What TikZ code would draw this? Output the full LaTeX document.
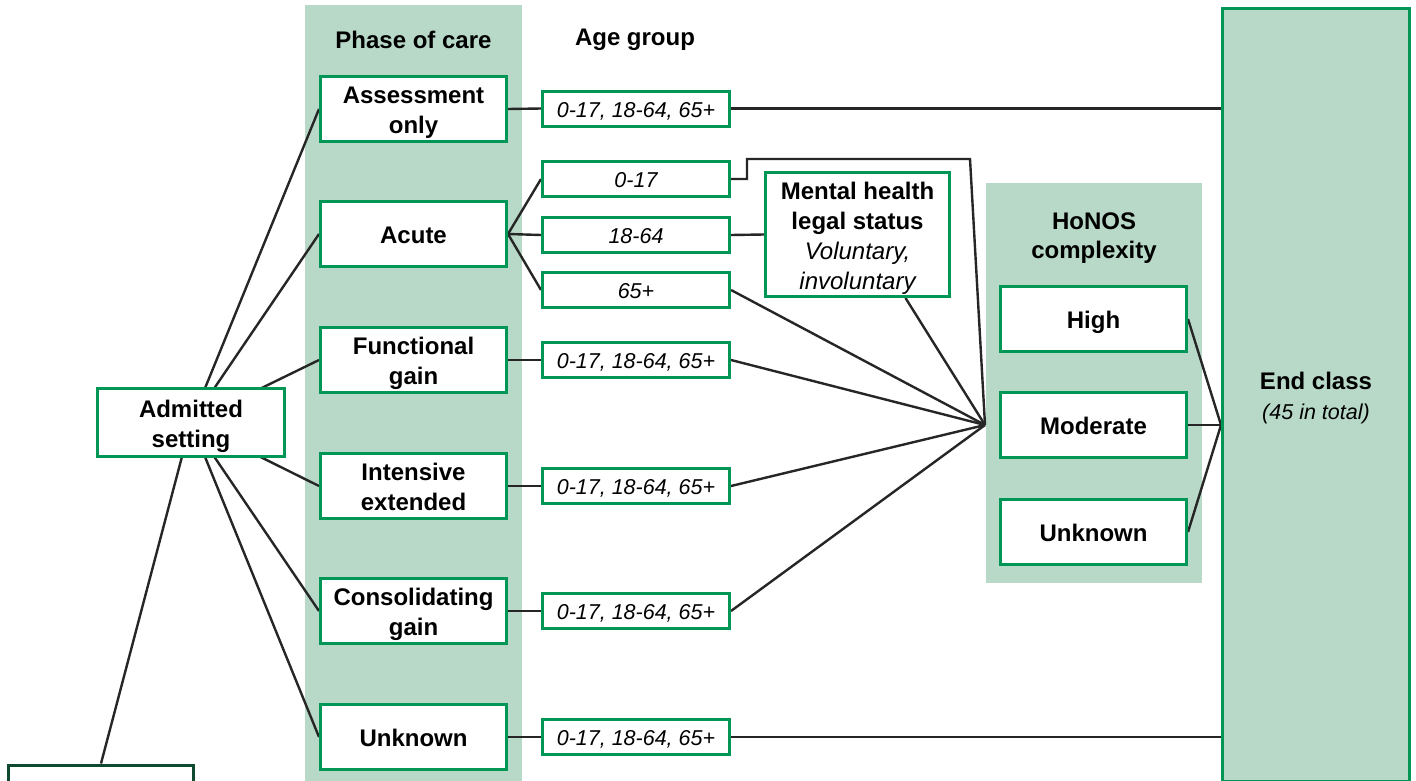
\documentclass[tikz,border=0pt]{standalone}
\usepackage{fontspec}
\setmainfont{Liberation Sans}
\pgfdeclarelayer{back}
\pgfdeclarelayer{lines}
\pgfsetlayers{back,lines,main}
\definecolor{bord}{RGB}{0,150,85}
\definecolor{fillg}{RGB}{184,217,200}
\definecolor{darkbord}{RGB}{15,74,48}
\newcommand{\boxtxt}[1]{\raisebox{-3.5bp}[\height][\depth]{\begin{tabular}{@{}c@{}}#1\end{tabular}}}
\tikzset{
  gbox/.style={draw=bord, line width=3bp, fill=white, inner sep=0pt,
    minimum width=186bp, minimum height=65bp,
    font=\fontsize{24bp}{30bp}\selectfont\bfseries},
  agebox/.style={draw=bord, line width=3bp, fill=white, inner sep=0pt,
    minimum width=187bp, minimum height=35bp,
    font=\fontsize{21.5bp}{26bp}\selectfont\itshape},
  hdr/.style={inner sep=0pt, font=\fontsize{24bp}{29bp}\selectfont\bfseries},
  conn/.style={draw=black!85, line width=2.4bp}
}
\begin{document}
\begin{tikzpicture}[x=1bp,y=-1bp]
\useasboundingbox (0,0) rectangle (1416,780);

% headers
\node[hdr] (hphase) at (413.5,40) {Phase of care};
\node[hdr] (hage) at (635,40) {Age group};

% phase of care
\node[gbox] (p1) at (413.5,109) {\boxtxt{Assessment\\only}};
\node[gbox] (p2) at (413.5,234) {\boxtxt{Acute}};
\node[gbox] (p3) at (413.5,360) {\boxtxt{Functional\\gain}};
\node[gbox] (p4) at (413.5,486) {\boxtxt{Intensive\\extended}};
\node[gbox] (p5) at (413.5,611) {\boxtxt{Consolidating\\gain}};
\node[gbox] (p6) at (413.5,737) {\boxtxt{Unknown}};

% age group
\node[agebox] (a1) at (636,108.5) {\boxtxt{0-17, 18-64, 65+}};
\node[agebox] (a2) at (636,179) {\boxtxt{0-17}};
\node[agebox] (a3) at (636,235) {\boxtxt{18-64}};
\node[agebox] (a4) at (636,290) {\boxtxt{65+}};
\node[agebox] (a5) at (636,360) {\boxtxt{0-17, 18-64, 65+}};
\node[agebox] (a6) at (636,486) {\boxtxt{0-17, 18-64, 65+}};
\node[agebox] (a7) at (636,611) {\boxtxt{0-17, 18-64, 65+}};
\node[agebox] (a8) at (636,737) {\boxtxt{0-17, 18-64, 65+}};

% mental health legal status
\node[gbox, minimum width=184bp, minimum height=124bp] (mh) at (857.5,234.5)
  {\boxtxt{Mental health\\legal status\\{\mdseries\itshape Voluntary,}\\{\mdseries\itshape involuntary}}};

% admitted setting
\node[gbox, minimum width=187bp, minimum height=68bp] (adm) at (191,422.5) {\boxtxt{Admitted\\setting}};
\node[gbox, draw=darkbord, minimum width=185bp, minimum height=60bp] (prev) at (101,795) {};

% HoNOS
\node[hdr] (hhonos) at (1094,234.5) {\boxtxt{HoNOS\\complexity}};
\node[gbox] (h1) at (1093.5,319) {\boxtxt{High}};
\node[gbox] (h2) at (1093.5,425) {\boxtxt{Moderate}};
\node[gbox] (h3) at (1093.5,532) {\boxtxt{Unknown}};

% end class
\node[gbox, fill=fillg, minimum width=187bp, minimum height=773bp] (end) at (1316,395)
  {\boxtxt{End class\\{\mdseries\itshape\fontsize{21.5bp}{30bp}\selectfont (45 in total)}}};

\coordinate (conv) at (985,425);
\coordinate (kink) at (970,159);
\coordinate (ein) at (end.west |- h2.east);

\begin{pgfonlayer}{back}
  \fill[white] (0,0) rectangle (1416,780);
  \fill[fillg] (305,5) rectangle (522,790);
  \fill[fillg] (986,183) rectangle (1202,583);
\end{pgfonlayer}

\begin{pgfonlayer}{lines}
  % admitted setting to phases
  \foreach \p in {p1,p2,p3,p4,p5,p6} {
    \draw[conn] (adm.center) -- (\p.west);
  }
  \draw[conn] (adm.center) -- (prev.north);
  % phases to age groups
  \draw[conn] (p1.east) -- (a1.west);
  \draw[conn] (p2.east) -- (a2.west);
  \draw[conn] (p2.east) -- (a3.west);
  \draw[conn] (p2.east) -- (a4.west);
  \draw[conn] (p3.east) -- (a5.west);
  \draw[conn] (p4.east) -- (a6.west);
  \draw[conn] (p5.east) -- (a7.west);
  \draw[conn] (p6.east) -- (a8.west);
  % age groups onwards
  \draw[conn] (a1.east) -- (a1.east -| end.west);
  \draw[conn] (a8.east) -- (a8.east -| end.west);
  \draw[conn] (a2.east) -- ++(16,0) -- ++(0,-20) -- (kink) -- (conv);
  \draw[conn] (a3.east) -- (mh.west);
  \draw[conn] (a4.east) -- (conv);
  \draw[conn] (a5.east) -- (conv);
  \draw[conn] (a6.east) -- (conv);
  \draw[conn] (a7.east) -- (conv);
  \draw[conn] ([xshift=48bp]mh.south) -- (conv);
  % HoNOS to end class
  \draw[conn] (h1.east) -- (ein);
  \draw[conn] (h2.east) -- (ein);
  \draw[conn] (h3.east) -- (ein);
\end{pgfonlayer}
\end{tikzpicture}
\end{document}
